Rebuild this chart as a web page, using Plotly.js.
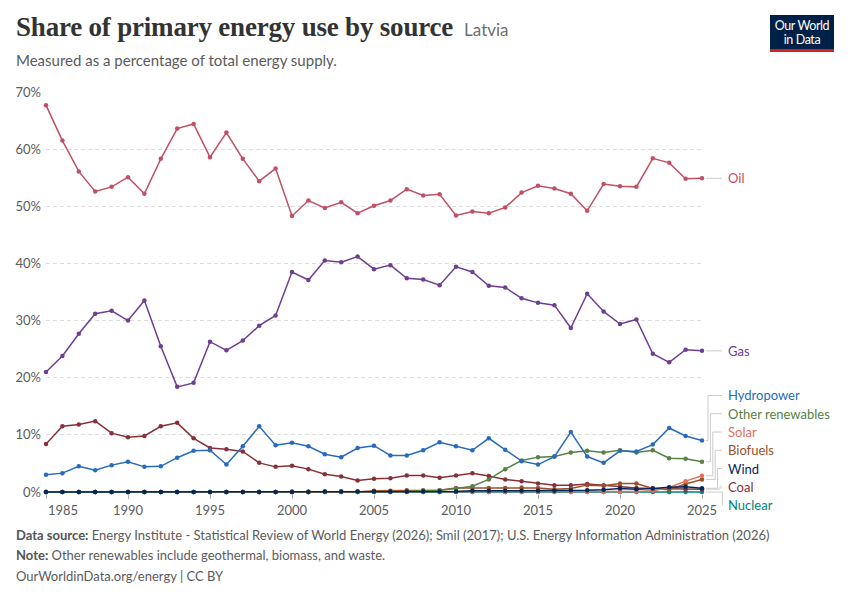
<!DOCTYPE html>
<html>
<head>
<meta charset="utf-8">
<script src="https://cdn.plot.ly/plotly-3.0.1.min.js"></script>
<style>
  html, body { margin: 0; padding: 0; background: #fff; }
  #wrap { position: relative; width: 850px; height: 600px; overflow: hidden; font-family: Lato, "Noto Sans", sans-serif; }
  #chart { position: absolute; left: 0; top: 0; width: 850px; height: 600px; }
  .txt { position: absolute; white-space: nowrap; pointer-events: none; }
  #title { left: 16px; top: 12px; font-family: "Liberation Serif", "DejaVu Serif", serif; font-weight: bold; font-size: 27px; color: #333; letter-spacing: -0.2px; }
  #title span { font-family: Lato, sans-serif; font-weight: normal; font-size: 17px; color: #6e6e6e; margin-left: 11px; letter-spacing: 0; }
  #subtitle { left: 16px; top: 51px; font-size: 15px; color: #5b5b5b; }
  #logo { left: 770px; top: 15px; width: 64px; height: 37px; background: #002147; border-bottom: 3px solid #ce261e; box-sizing: border-box; }
  #logo div { position: absolute; left: 0; width: 64px; text-align: center; color: #fff; font-size: 12.5px; line-height: 13px; letter-spacing: -0.4px; }
  .foot { left: 16px; font-size: 13px; color: #5b5b5b; }
  .foot b { font-weight: bold; color: #555; }
</style>
</head>
<body>
<div id="wrap">
  <div id="chart"></div>
  <div class="txt" id="title">Share of primary energy use by source<span>Latvia</span></div>
  <div class="txt" id="subtitle">Measured as a percentage of total energy supply.</div>
  <div class="txt" id="logo"><div style="top:4px">Our World</div><div style="top:18px">in Data</div></div>
  <div class="txt foot" style="top:527px"><b>Data source:</b> Energy Institute - Statistical Review of World Energy (2026); Smil (2017); U.S. Energy Information Administration (2026)</div>
  <div class="txt foot" style="top:547px"><b>Note:</b> Other renewables include geothermal, biomass, and waste.</div>
  <div class="txt foot" style="top:568px">OurWorldinData.org/energy | CC BY</div>
</div>
<script>
// ── Data (share of primary energy, %) ─────────────────────────────────────
const years = [1985, 1986, 1987, 1988, 1989, 1990, 1991, 1992, 1993, 1994,
               1995, 1996, 1997, 1998, 1999, 2000, 2001, 2002, 2003, 2004,
               2005, 2006, 2007, 2008, 2009, 2010, 2011, 2012, 2013, 2014,
               2015, 2016, 2017, 2018, 2019, 2020, 2021, 2022, 2023, 2024,
               2025];

const oil = [67.7, 61.5, 56.1, 52.6, 53.4, 55.1, 52.2, 58.3, 63.6, 64.4,
             58.6, 62.9, 58.3, 54.4, 56.6, 48.3, 51.0, 49.7, 50.7, 48.8,
             50.1, 51.0, 53.0, 51.9, 52.1, 48.4, 49.1, 48.8, 49.8, 52.4,
             53.6, 53.1, 52.2, 49.2, 53.9, 53.5, 53.4, 58.4, 57.6, 54.8,
             54.9];

const gas = [21.0, 23.8, 27.7, 31.2, 31.7, 30.0, 33.5, 25.5, 18.4, 19.1,
             26.3, 24.8, 26.5, 29.1, 30.9, 38.5, 37.1, 40.5, 40.2, 41.2,
             39.0, 39.7, 37.4, 37.2, 36.2, 39.4, 38.5, 36.1, 35.8, 33.9,
             33.1, 32.7, 28.7, 34.7, 31.6, 29.4, 30.2, 24.2, 22.7, 24.9,
             24.7];

const hydropower = [3.0, 3.3, 4.5, 3.8, 4.7, 5.3, 4.4, 4.5, 6.0, 7.2,
                    7.3, 4.8, 8.0, 11.5, 8.2, 8.6, 8.0, 6.6, 6.1, 7.7,
                    8.1, 6.4, 6.4, 7.3, 8.7, 8.0, 7.3, 9.4, 7.4, 5.4,
                    4.8, 6.2, 10.5, 6.2, 5.1, 7.2, 7.1, 8.3, 11.2, 9.8,
                    9.0];

const otherRenewables = [0, 0, 0, 0, 0, 0, 0, 0, 0, 0,
                         0, 0, 0, 0, 0, 0.1, 0.1, 0.1, 0.1, 0.1,
                         0.1, 0.1, 0.1, 0.2, 0.3, 0.6, 1.0, 2.2, 4.0, 5.5,
                         6.1, 6.2, 6.9, 7.2, 6.9, 7.3, 6.9, 7.3, 5.9, 5.8,
                         5.3];

const solar = [0, 0, 0, 0, 0, 0, 0, 0, 0, 0,
               0, 0, 0, 0, 0, 0, 0, 0, 0, 0,
               0, 0, 0, 0, 0, 0, 0, 0, 0, 0,
               0, 0, 0, 0, 0, 0.05, 0.1, 0.2, 0.8, 1.9,
               2.85];

const biofuels = [0, 0, 0, 0, 0, 0, 0, 0, 0, 0,
                  0, 0, 0, 0, 0, 0, 0, 0, 0, 0,
                  0.2, 0.2, 0.3, 0.3, 0.3, 0.7, 0.7, 0.7, 0.7, 0.8,
                  0.7, 0.5, 0.6, 1.2, 1.1, 1.5, 1.5, 0.6, 0.4, 1.4,
                  2.2];

const wind = [0, 0, 0, 0, 0, 0, 0, 0, 0, 0,
              0, 0, 0, 0, 0, 0, 0, 0.1, 0.1, 0.1,
              0.1, 0.1, 0.1, 0.1, 0.1, 0.1, 0.2, 0.2, 0.2, 0.2,
              0.2, 0.2, 0.3, 0.3, 0.4, 0.6, 0.5, 0.6, 0.85, 0.9,
              0.65];

const coal = [8.4, 11.5, 11.8, 12.4, 10.3, 9.6, 9.8, 11.5, 12.1, 9.4,
              7.7, 7.5, 7.1, 5.1, 4.4, 4.6, 4.0, 3.1, 2.7, 2.0,
              2.3, 2.4, 2.9, 2.9, 2.5, 2.9, 3.3, 2.8, 2.2, 1.9,
              1.5, 1.2, 1.2, 1.4, 1.2, 0.9, 0.7, 0.6, 0.6, 0.5,
              0.5];

const nuclear = [0, 0, 0, 0, 0, 0, 0, 0, 0, 0,
                 0, 0, 0, 0, 0, 0, 0, 0, 0, 0,
                 0, 0, 0, 0, 0, 0, 0, 0, 0, 0,
                 0, 0, 0, 0, 0, 0, 0, 0, 0, 0,
                 0];

const yTicks = [0, 10, 20, 30, 40, 50, 60, 70];
const xTicks = [1985, 1990, 1995, 2000, 2005, 2010, 2015, 2020, 2025];

// drawing order: first entry ends up at the bottom
const series = [
  {name: 'Nuclear',          values: nuclear,         color: '#00847e'},
  {name: 'Coal',             values: coal,            color: '#883039'},
  {name: 'Biofuels',         values: biofuels,        color: '#9a5129'},
  {name: 'Solar',            values: solar,           color: '#e56e5a'},
  {name: 'Other renewables', values: otherRenewables, color: '#578145'},
  {name: 'Hydropower',       values: hydropower,      color: '#286bbb'},
  {name: 'Wind',             values: wind,            color: '#00295b'},
  {name: 'Gas',              values: gas,             color: '#6d3e91'},
  {name: 'Oil',              values: oil,             color: '#c15065'},
];

// ── Layout constants ──────────────────────────────────────────────────────
const yRange     = [-0.35, 70];
const labelGap   = 3.2;    // min distance between end labels, in % units
const labelFloor = -2.3;   // lowest slot for the bottom label
const toPaperY   = v => (v - yRange[0]) / (yRange[1] - yRange[0]);
const GREY       = '#5b5b5b';
const CONNECTOR  = '#cccccc';

const traces = series.map(s => ({
  x: years,
  y: s.values,
  name: s.name,
  mode: 'lines+markers',
  line: {color: s.color, width: 1.5},
  marker: {color: s.color, size: 4.5},
  cliponaxis: false,
  hoverinfo: 'x+y+name',
}));

// ── End labels: spread so they don't overlap ──────────────────────────────
const ends = series.map(s => ({...s, last: s.values[s.values.length - 1]}))
                   .sort((a, b) => a.last - b.last);
let prev = null;
ends.forEach((e, i) => {
  e.pos = i === 0 ? labelFloor : Math.max(e.last, prev + labelGap);
  prev = e.pos;
});

const annotations = [];
const shapes = [];
const moved = ends.filter(e => Math.abs(e.pos - e.last) > 0.05)
                  .sort((a, b) => b.pos - a.pos);

ends.forEach(e => {
  annotations.push({
    x: 1, xref: 'paper', xshift: 24, xanchor: 'left',
    y: toPaperY(e.pos), yref: 'paper', yanchor: 'middle',
    text: e.name, showarrow: false,
    font: {family: 'Lato, sans-serif', size: 13, color: e.color},
  });
  const common = {type: 'line', xref: 'paper', yref: 'paper', xsizemode: 'pixel', xanchor: 1,
                  line: {color: CONNECTOR, width: 1}, layer: 'below'};
  const idx = moved.indexOf(e);
  if (idx < 0) {
    shapes.push({...common, x0: 4, x1: 20, y0: toPaperY(e.last), y1: toPaperY(e.last)});
  } else {
    const vx = 6 + 2.4 * idx;
    shapes.push({...common, x0: 4, x1: vx, y0: toPaperY(e.last), y1: toPaperY(e.last)});
    shapes.push({...common, x0: vx, x1: vx, y0: toPaperY(e.last), y1: toPaperY(e.pos)});
    shapes.push({...common, x0: vx, x1: 20, y0: toPaperY(e.pos), y1: toPaperY(e.pos)});
  }
});

// first year label sits left-aligned at the start of the axis
annotations.push({
  x: xTicks[0], xref: 'x', xanchor: 'left',
  y: 0, yref: 'paper', yanchor: 'top', yshift: -6,
  text: String(xTicks[0]), showarrow: false,
  font: {family: 'Lato, sans-serif', size: 13, color: GREY},
});

const layout = {
  width: 850,
  height: 600,
  margin: {l: 46, r: 148, t: 92, b: 106},
  paper_bgcolor: 'rgba(0,0,0,0)',
  plot_bgcolor: 'rgba(0,0,0,0)',
  showlegend: false,
  font: {family: 'Lato, sans-serif', size: 13, color: GREY},
  xaxis: {
    range: [years[0], years[years.length - 1]],
    tickvals: xTicks,
    ticktext: xTicks.map((t, i) => i === 0 ? '' : String(t)),
    ticks: 'outside', ticklen: 4, tickcolor: '#b0b0b0',
    showgrid: false, zeroline: false, showline: false,
    tickfont: {size: 13, color: GREY},
    fixedrange: true,
  },
  yaxis: {
    range: yRange,
    tickvals: yTicks,
    ticktext: yTicks.map(t => t + '%'),
    ticks: '', ticklabelstandoff: 4,
    showgrid: true, gridcolor: '#dddddd', griddash: '4px,3px', gridwidth: 1,
    zeroline: false, showline: false,
    tickfont: {size: 13, color: GREY},
    fixedrange: true,
  },
  annotations: annotations,
  shapes: shapes,
  hovermode: 'closest',
};

Plotly.newPlot('chart', traces, layout, {displayModeBar: false});
</script>
</body>
</html>
